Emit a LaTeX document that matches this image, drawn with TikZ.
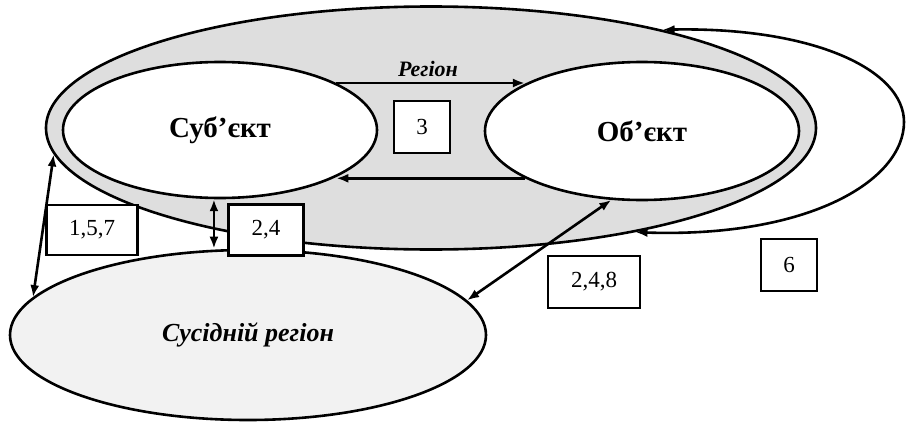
\documentclass[tikz,border=0pt]{standalone}
\usepackage{fontspec}
\setmainfont{Liberation Serif}
\usetikzlibrary{shapes.geometric,arrows.meta}

\begin{document}
\begin{tikzpicture}[x=1pt,y=-1pt,
    line width=2.6pt,
    oval/.style={draw, ellipse, inner sep=0pt},
    numbox/.style={draw, fill=white, inner sep=0pt, font=\fontsize{23}{25}\selectfont},
    bigtext/.style={font=\fontsize{29}{32}\selectfont\bfseries},
    dbl/.style={{Latex[length=12pt,width=9pt]}-{Latex[length=12pt,width=9pt]}},
    one/.style={-{Latex[length=12pt,width=9pt]}}]
\useasboundingbox (0,0) rectangle (908,423);

% region with subject and object
\node[oval, fill=black!13, minimum width=770pt, minimum height=243pt] (region) at (431,128) {};
\node[oval, fill=white, minimum width=314pt, minimum height=136pt, bigtext] (sub) at (220,130) {Суб’єкт};
\node[oval, fill=white, minimum width=314pt, minimum height=138pt, bigtext] (obj) at (642,131) {Об’єкт};
\node[font=\fontsize{22}{24}\selectfont\bfseries\itshape] (regname) at (428,69) {Регіон};

% neighbour region
\node[oval, fill=black!5, minimum width=476pt, minimum height=170pt,
      font=\fontsize{26}{28}\selectfont\bfseries\itshape] (neigh) at (248,335) {Сусідній регіон};

% links inside the region
\draw[one] (sub.22) -- (sub.22 -| obj.158);
\draw[one] (obj.202) -- (obj.202 -| sub.338);

%\draw[help lines] (0,0) grid[step=50] (908,423);

% links to the neighbour
\draw[dbl] (region.184) -- (neigh.170);
\draw[dbl] (sub.265) -- (sub.265 |- neigh.north);
\draw[dbl] (obj.246) -- (neigh.9);

% loop of the region
\draw[dbl] (region.23) .. controls (814,27) and (904,70) .. (904,122)
    .. controls (904,180) and (810,238) .. (region.-27);

% numbers
\node[numbox, minimum width=56pt, minimum height=52pt] (n3) at (422,127) {3};
\node[numbox, minimum width=91pt, minimum height=50pt] (n157) at (92,230) {1,5,7};
\node[numbox, minimum width=75pt, minimum height=51pt] (n24) at (266,230) {2,4};
\node[numbox, minimum width=92pt, minimum height=52pt] (n248) at (594,282) {2,4,8};
\node[numbox, minimum width=56pt, minimum height=52pt] (n6) at (789,265) {6};

\end{tikzpicture}
\end{document}
